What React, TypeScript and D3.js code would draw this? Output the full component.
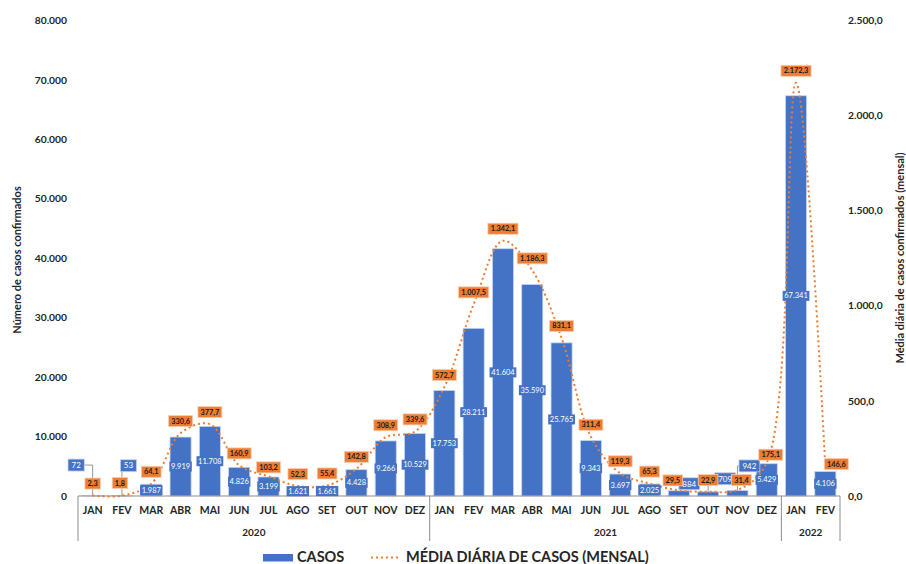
import React from "react";
import * as d3 from "d3";

// Monthly confirmed cases and the monthly mean of daily cases
const MONTHS = [
  "JAN", "FEV", "MAR", "ABR", "MAI", "JUN", "JUL", "AGO", "SET", "OUT", "NOV", "DEZ",
  "JAN", "FEV", "MAR", "ABR", "MAI", "JUN", "JUL", "AGO", "SET", "OUT", "NOV", "DEZ",
  "JAN", "FEV",
];
const YEARS = ["2020", "2021", "2022"];
const MONTHS_PER_YEAR = [12, 12, 2];

const CASOS = [
  72, 53, 1987, 9919, 11708, 4826, 3199, 1621, 1661, 4428, 9266, 10529,
  17753, 28211, 41604, 35590, 25765, 9343, 3697, 2025, 884, 709, 942, 5429,
  67341, 4106,
];
const MEDIA_DIARIA = [
  2.3, 1.8, 64.1, 330.6, 377.7, 160.9, 103.2, 52.3, 55.4, 142.8, 308.9, 339.6,
  572.7, 1007.5, 1342.1, 1186.3, 831.1, 311.4, 119.3, 65.3, 29.5, 22.9, 31.4, 175.1,
  2172.3, 146.6,
];
const CASOS_TICKS = [0, 10000, 20000, 30000, 40000, 50000, 60000, 70000, 80000];
const MEDIA_TICKS = [0, 500, 1000, 1500, 2000, 2500];

// Label nudges (dx, dy) for crowded spots
const CASOS_CALLOUTS: Record<number, [number, number]> = {
  0: [-16.5, -30.5],
  1: [6.5, -30],
  20: [10.5, -7],
  21: [17, -13],
  22: [12, -24.5],
};
const MEDIA_NUDGES: Record<number, [number, number]> = {
  1: [-2, -12.7],
  6: [0, -9],
  20: [-6, -10],
  21: [0, -11.6],
  22: [4, -10],
  23: [4, -8],
  25: [11, -4],
};

const W = 906;
const H = 564;
const FONT = "Lato, 'Open Sans', 'DejaVu Sans', sans-serif";
const BLUE = "#4472C4";
const ORANGE = "#ED7D31";
const AXIS = "#8c8c8c";

const ptBR = d3.formatLocale({
  decimal: ",",
  thousands: ".",
  grouping: [3],
  currency: ["R$", ""],
});
const fmtInt = ptBR.format(",.0f");
const fmtDec = ptBR.format(",.1f");

function textWidth(s: string, size: number) {
  let w = 0;
  for (const c of s) {
    if (c >= "0" && c <= "9") w += 0.58;
    else w += 0.27;
  }
  return w * size;
}

export default function App() {
  const left = 78;
  const right = 840;
  const y0 = 496;
  const yTop = 20.5;

  const idx = MONTHS.map((_, i) => i);
  const x = d3
    .scaleBand<number>()
    .domain(idx)
    .range([left, right])
    .paddingInner(0.28)
    .paddingOuter(0.14);
  const step = x.step();
  const bw = x.bandwidth();
  const cx = (i: number) => (x(i) as number) + bw / 2;

  const yL = d3.scaleLinear().domain([0, 80000]).range([y0, yTop]);
  const yR = d3.scaleLinear().domain([0, 2500]).range([y0, yTop]);

  const line = d3
    .line<number>()
    .x((_, i) => cx(i))
    .y((v) => yR(v))
    .curve(d3.curveCatmullRom.alpha(0.5));

  // year group boundaries
  const bounds: number[] = [left];
  let acc = 0;
  MONTHS_PER_YEAR.forEach((n) => {
    acc += n;
    bounds.push(left + step * acc);
  });

  const barLabelSize = 7.5;
  const mediaLabelSize = 7.3;

  return (
    <svg
      width={W}
      height={H}
      style={{ position: "absolute", left: 0, top: 0, background: "#fff" }}
      fontFamily={FONT}
    >
      {/* left axis ticks */}
      {CASOS_TICKS.map((t) => (
        <text
          key={"l" + t}
          x={67}
          y={yL(t)}
          dy="0.35em"
          textAnchor="end"
          fontSize={10.3}
          fontWeight="bold"
          fill="#262626"
        >
          {fmtInt(t)}
        </text>
      ))}
      {/* right axis ticks */}
      {MEDIA_TICKS.map((t) => (
        <text
          key={"r" + t}
          x={848}
          y={yR(t)}
          dy="0.35em"
          textAnchor="start"
          fontSize={10.3}
          fontWeight="bold"
          fill="#262626"
        >
          {fmtDec(t)}
        </text>
      ))}
      {/* axis titles */}
      <text
        transform={`translate(17,260) rotate(-90)`}
        textAnchor="middle"
        dy="0.35em"
        fontSize={11}
        fontWeight="bold"
        fill="#262626"
      >
        Número de casos confirmados
      </text>
      <text
        transform={`translate(900,258) rotate(-90)`}
        textAnchor="middle"
        dy="0.35em"
        fontSize={11}
        fontWeight="bold"
        fill="#262626"
      >
        Média diária de casos confirmados (mensal)
      </text>

      {/* bars */}
      {CASOS.map((v, i) => (
        <rect
          key={"b" + i}
          x={x(i)}
          y={yL(v)}
          width={bw}
          height={y0 - yL(v)}
          fill={BLUE}
          stroke="#c9d6ee"
          strokeWidth={0.8}
        />
      ))}

      {/* category axis */}
      <line x1={left} x2={right} y1={y0} y2={y0} stroke={AXIS} strokeWidth={1} />
      {bounds.map((bx, k) => (
        <line
          key={"sep" + k}
          x1={bx}
          x2={bx}
          y1={y0}
          y2={541}
          stroke={AXIS}
          strokeWidth={1}
        />
      ))}
      {MONTHS.map((m, i) => (
        <text
          key={"m" + i}
          x={cx(i)}
          y={510.5}
          dy="0.35em"
          textAnchor="middle"
          fontSize={10.5}
          fontWeight="bold"
          fill="#262626"
        >
          {m}
        </text>
      ))}
      {YEARS.map((yr, k) => (
        <text
          key={"y" + yr}
          x={(bounds[k] + bounds[k + 1]) / 2}
          y={532}
          dy="0.35em"
          textAnchor="middle"
          fontSize={10}
          fontWeight="bold"
          fill="#262626"
        >
          {yr}
        </text>
      ))}

      {/* daily mean line */}
      <path
        d={line(MEDIA_DIARIA) || ""}
        fill="none"
        stroke={ORANGE}
        strokeWidth={2}
        strokeDasharray="2 3"
      />

      {/* bar labels inside bars */}
      {CASOS.map((v, i) => {
        if (CASOS_CALLOUTS[i]) return null;
        const s = fmtInt(v);
        const w = textWidth(s, barLabelSize) + 3;
        const yc = (yL(v) + y0) / 2;
        return (
          <g key={"bl" + i}>
            <rect x={cx(i) - w / 2} y={yc - 5} width={w} height={10} fill={BLUE} />
            <text
              x={cx(i)}
              y={yc}
              dy="0.35em"
              textAnchor="middle"
              fontSize={barLabelSize}
              fill="#fff"
            >
              {s}
            </text>
          </g>
        );
      })}

      {/* callout leaders for small bars */}
      {Object.entries(CASOS_CALLOUTS).map(([k, [dx, dy]]) => {
        const i = +k;
        const s = fmtInt(CASOS[i]);
        const w = textWidth(s, 8) + 7;
        const bx = cx(i);
        const by = yL(CASOS[i]);
        const lx = bx + dx;
        const ly = by + dy;
        let d: string;
        if (bx >= lx - w / 2 && bx <= lx + w / 2) {
          d = `M${bx},${ly + 6}V${by}`;
        } else {
          const ex = bx < lx ? lx - w / 2 : lx + w / 2;
          d = `M${ex},${ly}H${bx}V${by}`;
        }
        if (Math.abs(dy) < 10) return null;
        return <path key={"ld" + i} d={d} fill="none" stroke="#7f7f7f" strokeWidth={0.8} />;
      })}
      {Object.entries(CASOS_CALLOUTS).map(([k, [dx, dy]]) => {
        const i = +k;
        const s = fmtInt(CASOS[i]);
        const w = textWidth(s, 8) + 7;
        const lx = cx(i) + dx;
        const ly = yL(CASOS[i]) + dy;
        return (
          <g key={"co" + i}>
            <rect
              x={lx - w / 2}
              y={ly - 6}
              width={w}
              height={12}
              fill={BLUE}
              stroke="#c9d6ee"
              strokeWidth={0.8}
            />
            <text
              x={lx}
              y={ly}
              dy="0.35em"
              textAnchor="middle"
              fontSize={8}
              fill="#fff"
            >
              {s}
            </text>
          </g>
        );
      })}

      {/* daily mean labels */}
      {MEDIA_DIARIA.map((v, i) => {
        const [dx, dy] = MEDIA_NUDGES[i] || [0, -12];
        const s = fmtDec(v);
        const w = textWidth(s, mediaLabelSize) + 5;
        const lx = cx(i) + dx;
        const ly = yR(v) + dy;
        return (
          <g key={"ml" + i}>
            <rect
              x={lx - w / 2}
              y={ly - 5.5}
              width={w}
              height={11}
              fill={ORANGE}
              stroke="#f8cbad"
              strokeWidth={0.8}
            />
            <text
              x={lx}
              y={ly}
              dy="0.35em"
              textAnchor="middle"
              fontSize={mediaLabelSize}
              fontWeight="bold"
              fill="#1a1a1a"
            >
              {s}
            </text>
          </g>
        );
      })}

      {/* legend */}
      <rect x={263} y={554} width={30} height={7.5} fill={BLUE} />
      <text x={297} y={561.5} fontSize={14.5} fontWeight="bold" fill="#262626">
        CASOS
      </text>
      <line
        x1={371}
        x2={400}
        y1={557.5}
        y2={557.5}
        stroke={ORANGE}
        strokeWidth={2}
        strokeDasharray="2 3"
      />
      <text x={406} y={561.5} fontSize={14.5} fontWeight="bold" fill="#262626">
        MÉDIA DIÁRIA DE CASOS (MENSAL)
      </text>
    </svg>
  );
}
